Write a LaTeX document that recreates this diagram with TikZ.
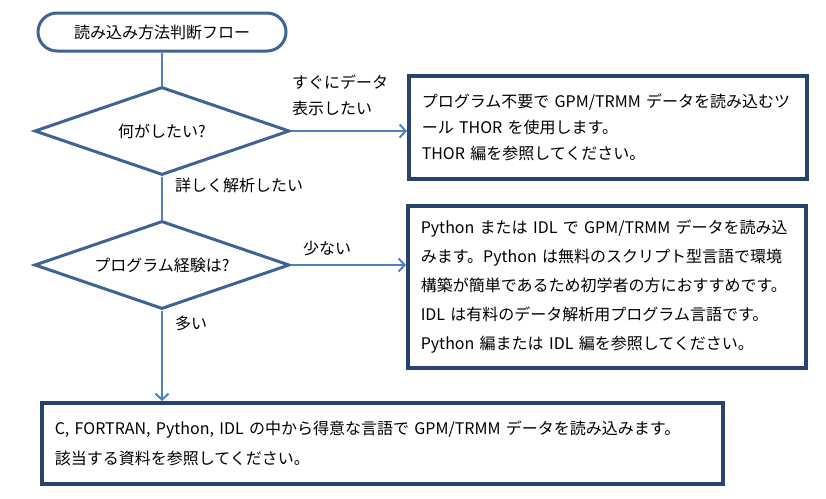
\documentclass[tikz,border=0pt]{standalone}
\usepackage{fontspec}
\setmainfont{Noto Sans CJK JP}
\usetikzlibrary{shapes.geometric, arrows.meta}
\definecolor{shapeblue}{RGB}{62,100,148}
\definecolor{linkblue}{RGB}{79,129,189}
\definecolor{boxnavy}{RGB}{37,66,112}

\begin{document}
\begin{tikzpicture}[x=1pt, y=-1pt, font=\fontsize{16}{26}\selectfont,
  term/.style={draw=shapeblue, line width=3pt, rounded corners=19pt,
    minimum width=248pt, minimum height=38pt},
  decide/.style={draw=shapeblue, line width=3pt, diamond, aspect=2.9,
    inner sep=0pt, minimum width=255pt, minimum height=88pt},
  infobox/.style={draw=boxnavy, line width=3.5pt, anchor=north west,
    inner xsep=13pt, align=left},
  link/.style={draw=linkblue, line width=2.5pt},
  go/.style={link, -{Straight Barb[length=6pt, width=13pt, line width=2pt]}},
  lbl/.style={anchor=west, inner sep=0pt, align=left}]
  \useasboundingbox (0,0) rectangle (826,498);
  % 流れの本体
  \node[term] (start) at (162,32) {読み込み方法判断フロー};
  \node[decide] (ask) at (162,131) {何がしたい?};
  \node[decide] (skill) at (162,265) {プログラム経験は?};
  % 結果の箱
  \node[infobox, text width=372pt, minimum height=103pt] (thor) at (407,74)
    {プログラム不要で GPM/TRMM データを読み込むツ\\
     ール THOR を使用します。\\
     THOR 編を参照してください。};
  \node[infobox, text width=372pt, minimum height=162pt,
    font=\fontsize{16}{29}\selectfont] (pyidl) at (406,204)
    {Python または IDL で GPM/TRMM データを読み込\\
     みます。Python は無料のスクリプト型言語で環境\\
     構築が簡単であるため初学者の方におすすめです。\\
     IDL は有料のデータ解析用プログラム言語です。\\
     Python 編または IDL 編を参照してください。};
  \node[infobox, text width=655pt, minimum height=81pt,
    font=\fontsize{16}{30}\selectfont] (other) at (40,401)
    {C, FORTRAN, Python, IDL の中から得意な言語で GPM/TRMM データを読み込みます。\\
     該当する資料を参照してください。};
  % 矢印
  \draw[link] (start.south) -- (ask.north);
  \draw[go] (ask.east) -- (ask.east -| thor.west);
  \draw[link] (ask.south) -- (skill.north);
  \draw[go] (skill.east) -- (skill.east -| pyidl.west);
  \draw[go] (skill.south) -- (skill.south |- other.north);
  % 分岐の文字
  \node[lbl] (fast) at (292,95) {すぐにデータ\\表示したい};
  \node[lbl] (deep) at (175,185) {詳しく解析したい};
  \node[lbl] (few) at (303,248) {少ない};
  \node[lbl] (many) at (175,323) {多い};
\end{tikzpicture}
\end{document}
